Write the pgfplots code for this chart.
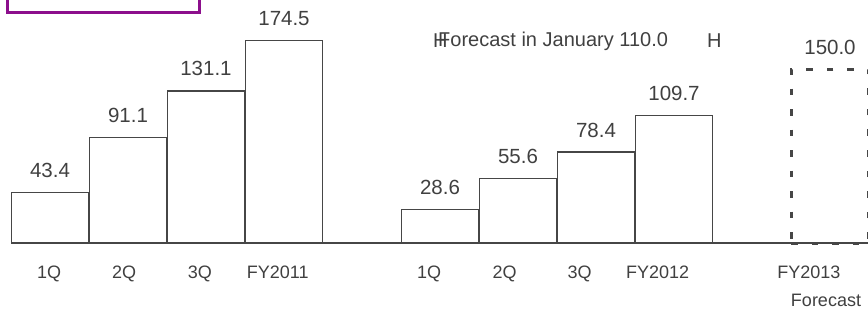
\documentclass[border=0pt]{standalone}
\usepackage{pgfplots}
\pgfplotsset{compat=1.18}
\usepackage{fontspec}
\setmainfont{Liberation Sans}
\definecolor{txtgray}{RGB}{64,64,64}
\definecolor{linegray}{RGB}{70,70,70}
\definecolor{purpleC}{RGB}{140,15,140}
\newcommand{\ftw}{\fontsize{20}{22}\selectfont}
\begin{document}
\begin{tikzpicture}[x=1pt,y=1pt]
\useasboundingbox (0,0) rectangle (868,311);
\draw[line width=3pt, purpleC] (7,298) rectangle (199,330);
\begin{axis}[
  at={(11pt,68pt)}, anchor=south west,
  scale only axis, width=858pt, height=232pt,
  xmin=-0.5, xmax=10.5, ymin=0, ymax=200,
  axis x line=bottom, axis y line=none,
  axis line style={-, draw=linegray, line width=1.2pt},
  major tick length=0pt,
  xtick={-0.01,0.95,1.92,2.92,4.86,5.83,6.79,7.79,9.73},
  xticklabels={1Q,2Q,3Q,FY2011,1Q,2Q,3Q,FY2012,FY2013},
  xticklabel style={anchor=base, yshift=-35.5pt, font=\fontsize{18}{20}\selectfont, text=txtgray},
  clip=false,
  point meta=explicit symbolic,
  nodes near coords,
  every node near coord/.append style={anchor=center, yshift=22pt, font=\fontsize{20.5}{22}\selectfont, text=txtgray},
]
\addplot[ybar, bar shift=0pt, bar width=77.5pt, draw=linegray, fill=white, line width=1.2pt]
  coordinates {(0,43.4)[43.4] (1,91.1)[91.1] (2,131.1)[131.1] (3,174.5)[174.5]
               (5,28.6)[28.6] (6,55.6)[55.6] (7,78.4)[78.4] (8,109.7)[109.7]};
\addplot[ybar, bar shift=0pt, bar width=77.5pt, draw=linegray, fill=none, line width=3pt, dash pattern=on 6.5pt off 14pt]
  coordinates {(10,150.0)[150.0]};
\end{axis}
\node[anchor=west, inner sep=0pt, text=txtgray, font=\ftw] at (433,270) {H};
\node[anchor=west, inner sep=0pt, text=txtgray, font=\ftw] at (438,270) {Forecast in January 110.0};
\node[anchor=west, inner sep=0pt, text=txtgray, font=\ftw] at (707,270) {H};
\node[anchor=base, inner sep=0pt, text=txtgray, font=\fontsize{18}{20}\selectfont] at (826,5) {Forecast};
\end{tikzpicture}
\end{document}
